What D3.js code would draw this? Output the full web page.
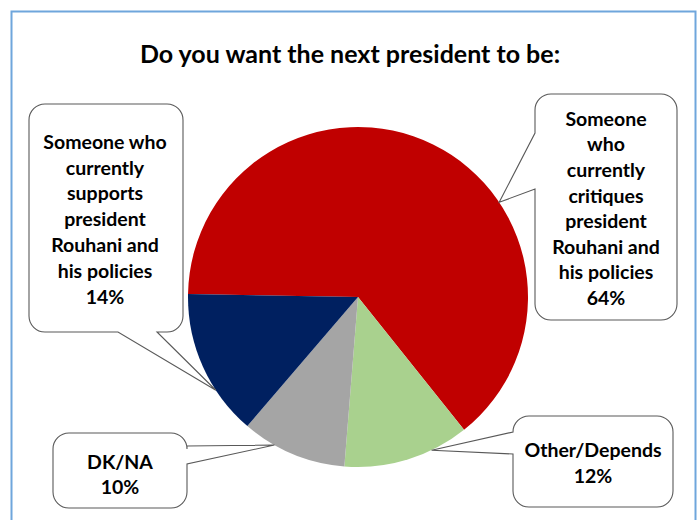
<!DOCTYPE html>
<html><head><meta charset="utf-8">
<script src="https://cdn.jsdelivr.net/npm/d3@7"></script>
<style>html,body{margin:0;padding:0;background:#fff;}svg{display:block;}</style>
</head><body>
<svg id="c" width="698" height="520"></svg>
<script>
const title = "Do you want the next president to be:";
const categories = ["Someone who currently critiques president Rouhani and his policies", "Other/Depends", "DK/NA", "Someone who currently supports president Rouhani and his policies"];
const values = [64, 12, 10, 14];
const colors = ["#C00000", "#A9D18E", "#A5A5A5", "#002060"];
const labelLines = [
  ["Someone", "who", "currently", "critiques", "president", "Rouhani and", "his policies", "64%"],
  ["Other/Depends", "12%"],
  ["DK/NA", "10%"],
  ["Someone who", "currently", "supports", "president", "Rouhani and", "his policies", "14%"]
];

const svg = d3.select("#c");
svg.append("rect").attr("x", 11.5).attr("y", 11.5).attr("width", 684).attr("height", 520)
  .attr("fill", "none").attr("stroke", "#6FA6DC").attr("stroke-width", 2);

svg.append("text").attr("x", 350).attr("y", 63).attr("text-anchor", "middle")
  .attr("font-family", "Lato, 'Open Sans', sans-serif").attr("font-weight", "bold")
  .attr("font-size", 25).attr("fill", "#000").text(title);

const cx = 358, cy = 297, R = 170;
const start = -89 * Math.PI / 180;
const pie = d3.pie().sort(null).value(d => d).startAngle(start).endAngle(start + 2 * Math.PI);
const arcs = pie(values);
const arc = d3.arc().innerRadius(0).outerRadius(R);
const g = svg.append("g").attr("transform", `translate(${cx},${cy})`);
g.selectAll("path").data(arcs).join("path").attr("d", arc).attr("fill", (d, i) => colors[i]);

const boxes = [
  {x: 535, y: 94, w: 142, h: 226, side: "left", a: 133, b: 189, frac: 0.63, tx: 606, ty0: 119, lh: 25.6},
  {x: 513, y: 416, w: 160, h: 91, side: "left", a: 432, b: 454, frac: 0.30, tx: 593, ty0: 450, lh: 26},
  {x: 53, y: 433, w: 134, h: 75, side: "right", a: 446, b: 464, frac: 0.69, tx: 120, ty0: 462, lh: 25.5},
  {x: 29, y: 104, w: 154, h: 228, side: "bottom", a: 118, b: 157, frac: 0.32, tx: 105, ty0: 142, lh: 25.8}
];
const rr = 16;
function calloutPath(b, tip) {
  const x0 = b.x, y0 = b.y, x1 = b.x + b.w, y1 = b.y + b.h;
  const p = d3.path();
  p.moveTo(x0 + rr, y0);
  p.lineTo(x1 - rr, y0);
  p.arcTo(x1, y0, x1, y0 + rr, rr);
  if (b.side === "right") { p.lineTo(x1, b.a); p.lineTo(tip[0], tip[1]); p.lineTo(x1, b.b); }
  p.lineTo(x1, y1 - rr);
  p.arcTo(x1, y1, x1 - rr, y1, rr);
  if (b.side === "bottom") { p.lineTo(b.b, y1); p.lineTo(tip[0], tip[1]); p.lineTo(b.a, y1); }
  p.lineTo(x0 + rr, y1);
  p.arcTo(x0, y1, x0, y1 - rr, rr);
  if (b.side === "left") { p.lineTo(x0, b.b); p.lineTo(tip[0], tip[1]); p.lineTo(x0, b.a); }
  p.lineTo(x0, y0 + rr);
  p.arcTo(x0, y0, x0 + rr, y0, rr);
  p.closePath();
  return p.toString();
}
boxes.forEach((b, i) => {
  const a = arcs[i];
  const ang = a.startAngle + (a.endAngle - a.startAngle) * b.frac;
  const tip = [cx + R * Math.sin(ang), cy - R * Math.cos(ang)];
  svg.append("path").attr("d", calloutPath(b, tip)).attr("fill", "#fff")
    .attr("stroke", "#595959").attr("stroke-width", 1.1);
  const t = svg.append("text").attr("text-anchor", "middle")
    .attr("font-family", "Lato, 'Open Sans', sans-serif").attr("font-weight", "bold")
    .attr("font-size", 19.5).attr("fill", "#000");
  labelLines[i].forEach((line, k) => {
    t.append("tspan").attr("x", b.tx).attr("y", b.ty0 + k * b.lh).attr("dy", "0.35em").text(line);
  });
});
</script>
</body></html>
